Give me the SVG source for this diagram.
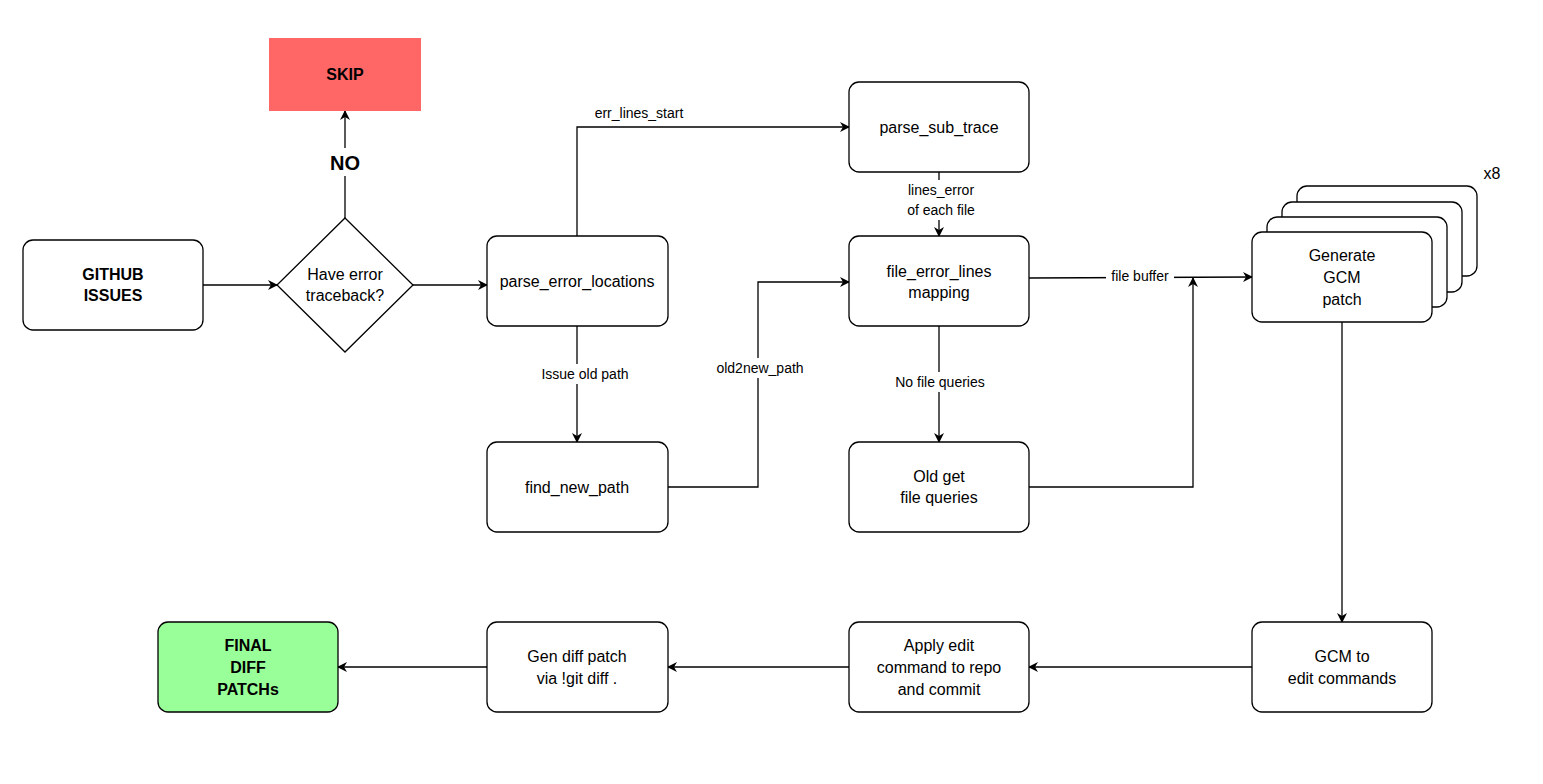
<svg xmlns="http://www.w3.org/2000/svg" width="1543" height="784" viewBox="0 0 1543 784">
<defs>
<marker id="a" markerWidth="10" markerHeight="10" refX="9" refY="5" orient="auto" markerUnits="userSpaceOnUse"><path d="M0,0 L10,5 L0,10 L3,5 Z" fill="#000"/></marker>
<style>
.n{fill:#fff;stroke:#000;stroke-width:1.3}
.t{font-family:"Liberation Sans",Arial,sans-serif;font-size:16px;text-anchor:middle;fill:#000}
.b{font-weight:bold}
.l{font-family:"Liberation Sans",Arial,sans-serif;font-size:14px;text-anchor:middle;fill:#000}
.c{fill:none;stroke:#000;stroke-width:1.3;marker-end:url(#a)}
</style>
</defs>
<rect width="1543" height="784" fill="#fff"/>
<g id="connectors">
<path class="c" d="M203,285 H277"/>
<path class="c" d="M413,285 H487"/>
<path class="c" d="M345,218 V111"/>
<path class="c" d="M577,236 V127 H849"/>
<path class="c" d="M939,172 V236"/>
<path class="c" d="M577,326 V442"/>
<path class="c" d="M668,487 H758 V282 H849"/>
<path class="c" d="M939,326 V442"/>
<path class="c" d="M1029,278 L1252,277"/>
<path class="c" d="M1029,487 H1193 V278"/>
<path class="c" d="M1342,322 V622"/>
<path class="c" d="M1252,667 H1029"/>
<path class="c" d="M849,667 H668"/>
<path class="c" d="M487,667 H338"/>
<rect x="325" y="148" width="40" height="28" fill="#fff"/>
<text class="t b" x="345" y="170" font-size="20" style="font-size:20px">NO</text>
<rect x="584" y="103" width="110" height="18" fill="#fff"/>
<text class="l" x="639" y="118">err_lines_start</text>
<rect x="895" y="180" width="90" height="40" fill="#fff"/>
<text class="l" x="941" y="195">lines_error</text>
<text class="l" x="941" y="215">of each file</text>
<rect x="532" y="364" width="108" height="20" fill="#fff"/>
<text class="l" x="585" y="379">Issue old path</text>
<rect x="707" y="358" width="106" height="20" fill="#fff"/>
<text class="l" x="760" y="373">old2new_path</text>
<rect x="885" y="372" width="110" height="20" fill="#fff"/>
<text class="l" x="940" y="387">No file queries</text>
<rect x="1106" y="267" width="68" height="18" fill="#fff"/>
<text class="l" x="1140" y="281">file buffer</text>
</g>
<g id="github"><rect class="n" x="23" y="240" width="180" height="90" rx="10"/><text class="t b" x="113" y="280">GITHUB</text><text class="t b" x="113" y="301">ISSUES</text></g>
<g id="decision"><polygon class="n" points="345,218 413,285 345,352 277,285"/><text class="t" x="345" y="280">Have error</text><text class="t" x="345" y="301">traceback?</text></g>
<g id="skip"><rect x="269" y="38" width="152" height="73" fill="#FF6666"/><text class="t b" x="345" y="80">SKIP</text></g>
<g id="pel"><rect class="n" x="487" y="236" width="181" height="90" rx="10"/><text class="t" x="577" y="287">parse_error_locations</text></g>
<g id="pst"><rect class="n" x="849" y="82" width="180" height="90" rx="10"/><text class="t" x="939" y="133">parse_sub_trace</text></g>
<g id="fel"><rect class="n" x="849" y="236" width="180" height="90" rx="10"/><text class="t" x="939" y="277">file_error_lines</text><text class="t" x="939" y="298">mapping</text></g>
<g id="fnp"><rect class="n" x="487" y="442" width="181" height="90" rx="10"/><text class="t" x="577" y="493">find_new_path</text></g>
<g id="ogfq"><rect class="n" x="849" y="442" width="180" height="90" rx="10"/><text class="t" x="939" y="482">Old get</text><text class="t" x="939" y="503">file queries</text></g>
<g id="gcm">
<rect class="n" x="1297" y="186" width="180" height="90" rx="10"/>
<rect class="n" x="1282" y="202" width="180" height="90" rx="10"/>
<rect class="n" x="1267" y="217" width="180" height="90" rx="10"/>
<rect class="n" x="1252" y="232" width="180" height="90" rx="10"/>
<text class="t" x="1342" y="261">Generate</text><text class="t" x="1342" y="283">GCM</text><text class="t" x="1342" y="305">patch</text>
<text class="t" x="1492" y="179">x8</text>
</g>
<g id="gcmedit"><rect class="n" x="1252" y="622" width="180" height="90" rx="10"/><text class="t" x="1342" y="662">GCM to</text><text class="t" x="1342" y="684">edit commands</text></g>
<g id="apply"><rect class="n" x="849" y="622" width="180" height="90" rx="10"/><text class="t" x="939" y="651">Apply edit</text><text class="t" x="939" y="673">command to repo</text><text class="t" x="939" y="695">and commit</text></g>
<g id="gendiff"><rect class="n" x="487" y="622" width="181" height="90" rx="10"/><text class="t" x="577" y="662">Gen diff patch</text><text class="t" x="577" y="684">via !git diff .</text></g>
<g id="final"><rect x="158" y="622" width="180" height="90" rx="10" fill="#99FF99" stroke="#000" stroke-width="1.3"/><text class="t b" x="248" y="651">FINAL</text><text class="t b" x="248" y="673">DIFF</text><text class="t b" x="248" y="695">PATCHs</text></g>
</svg>
